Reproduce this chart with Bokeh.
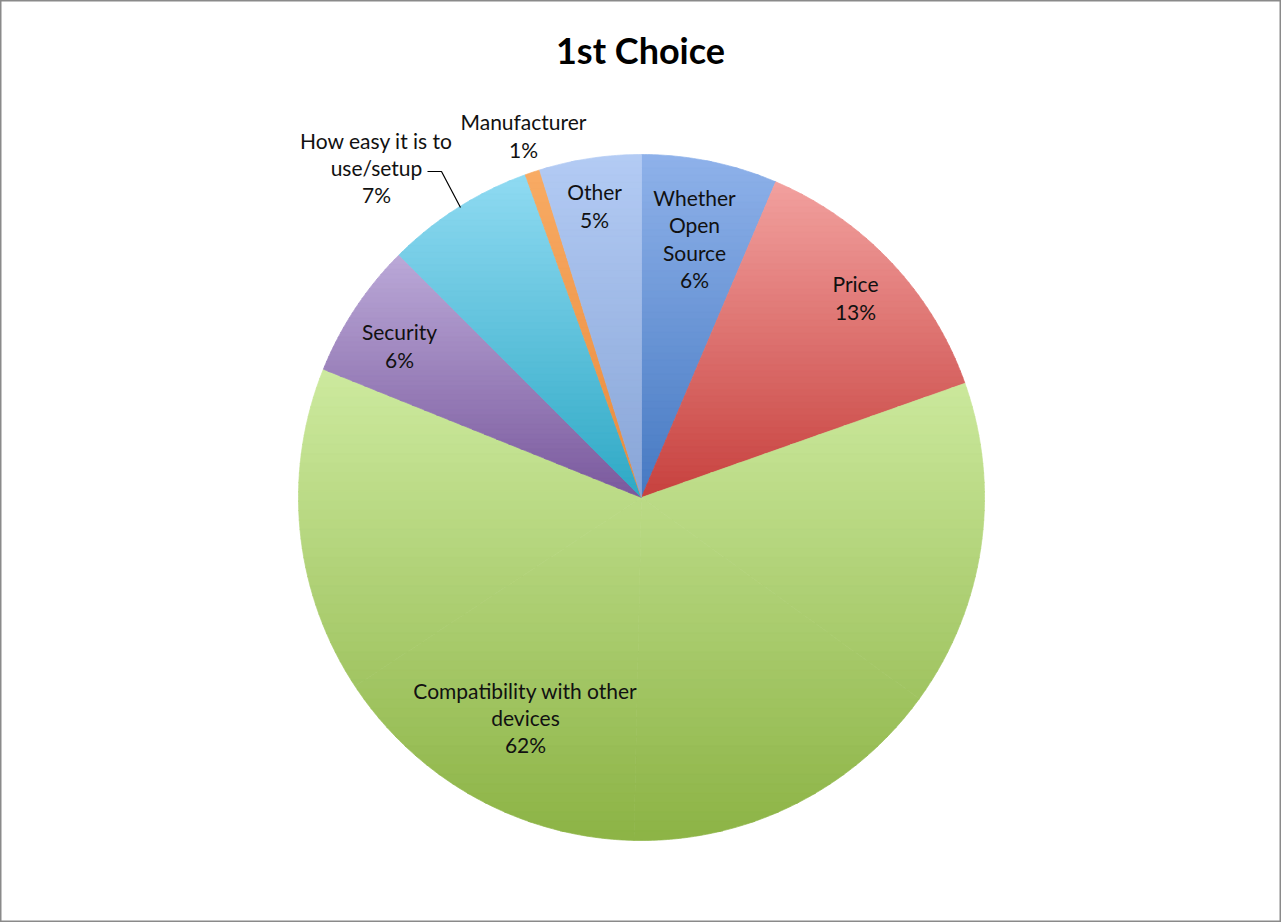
import numpy as np
from bokeh.plotting import figure
from bokeh.models import Range1d, ColumnDataSource
from bokeh.core.properties import value
from bokeh.embed import file_html
from bokeh.resources import INLINE

# ---- data (clockwise from 12 o'clock) ----
categories = ["Whether\nOpen\nSource", "Price", "Compatibility with other\ndevices",
              "Security", "How easy it is to\nuse/setup", "Manufacturer", "Other"]
shares = [6.4, 13.2, 61.5, 6.4, 7.0, 0.7, 4.8]
pct_labels = [f"{round(v)}%" for v in shares]
title_text = "1st Choice"

# ---- style ----
W, H = 1281, 922
CX, CY, R = 641, 497, 343
top_colors = ["#8fb2ea", "#f2a19f", "#cdea9f", "#bba9d8", "#90dbf2", "#f8ab64", "#b3cbf4"]
bot_colors = ["#4679c2", "#c7413e", "#8cb345", "#7a599d", "#2ea8c5", "#e98a3b", "#88a5d7"]
label_pos = [(694, 238), (855, 297), (525, 717), (399, 345), (376, 167), (523, 135), (594, 205)]

p = figure(width=W, height=H, x_range=Range1d(0, W), y_range=Range1d(H, 0),
           output_backend="svg", toolbar_location=None, min_border=0)
p.axis.visible = False
p.grid.visible = False
p.outline_line_color = "#8a8a8a"
p.outline_line_width = 2
p.background_fill_color = "white"
p.border_fill_color = "white"


def hex2rgb(h):
    h = h.lstrip("#")
    return np.array([int(h[i:i + 2], 16) for i in (0, 2, 4)], dtype=float)


def rgb2hex(c):
    return "#%02x%02x%02x" % tuple(int(round(v)) for v in c)


def clip(pts, inside, inter):
    out = []
    n = len(pts)
    for i in range(n):
        cur, prev = pts[i], pts[i - 1]
        if inside(cur):
            if not inside(prev):
                out.append(inter(prev, cur))
            out.append(cur)
        elif inside(prev):
            out.append(inter(prev, cur))
    return out


def ix(p0, p1, yy):
    t = (yy - p0[1]) / (p1[1] - p0[1])
    return (p0[0] + t * (p1[0] - p0[0]), yy)


def wedge_poly(a0, a1):
    n = max(6, int((a1 - a0) * 2))
    ts = np.radians(np.linspace(a0, a1, n))
    return [(CX, CY)] + [(CX + R * np.sin(t), CY - R * np.cos(t)) for t in ts]


xs_all, ys_all, cols = [], [], []
total = sum(shares)
start = 0.0
for k, v in enumerate(shares):
    a0 = start / total * 360.0
    a1 = (start + v) / total * 360.0
    start += v
    # split into convex sub-wedges (<= 60 deg each)
    nsub = int(np.ceil((a1 - a0) / 60.0))
    bounds = np.linspace(a0, a1, nsub + 1)
    subs = [wedge_poly(bounds[i], bounds[i + 1]) for i in range(nsub)]
    allpts = [q for s in subs for q in s]
    ymin = min(q[1] for q in allpts)
    ymax = max(q[1] for q in allpts)
    nb = 50
    edges = np.linspace(ymin, ymax, nb + 1)
    ct, cb = hex2rgb(top_colors[k]), hex2rgb(bot_colors[k])
    for b in range(nb):
        y0 = edges[b] - 0.4
        y1 = edges[b + 1] + 0.4
        f = (b + 0.5) / nb
        col = rgb2hex(ct + (cb - ct) * f)
        for poly in subs:
            pts = clip(poly, lambda q: q[1] >= y0, lambda a, c: ix(a, c, y0))
            if pts:
                pts = clip(pts, lambda q: q[1] <= y1, lambda a, c: ix(a, c, y1))
            if len(pts) < 3:
                continue
            xs_all.append([q[0] for q in pts])
            ys_all.append([q[1] for q in pts])
            cols.append(col)

src = ColumnDataSource(dict(xs=xs_all, ys=ys_all, c=cols))
p.patches("xs", "ys", source=src, fill_color="c", line_color="c", line_width=0.7)

# leader line for "How easy it is to use/setup"
p.line(x=[427, 441, 460], y=[171, 171, 207], line_color="black", line_width=1.2)

# labels
lab_text = []
lx, ly = [], []
for k, cat in enumerate(categories):
    lab_text.append(cat + "\n" + pct_labels[k])
    lx.append(label_pos[k][0])
    ly.append(label_pos[k][1])
lsrc = ColumnDataSource(dict(x=lx, y=ly, t=lab_text))
p.text("x", "y", text="t", source=lsrc, text_align="center", text_baseline="middle",
       text_font=value("Lato"), text_font_size="21px", text_line_height=1.09,
       text_color="#111111")

p.text(x=[640], y=[49], text=[title_text], text_align="center", text_baseline="middle",
       text_font=value("Lato"), text_font_size="36px", text_font_style="bold",
       text_color="black")

open("out.html", "w").write(file_html(p, INLINE))
